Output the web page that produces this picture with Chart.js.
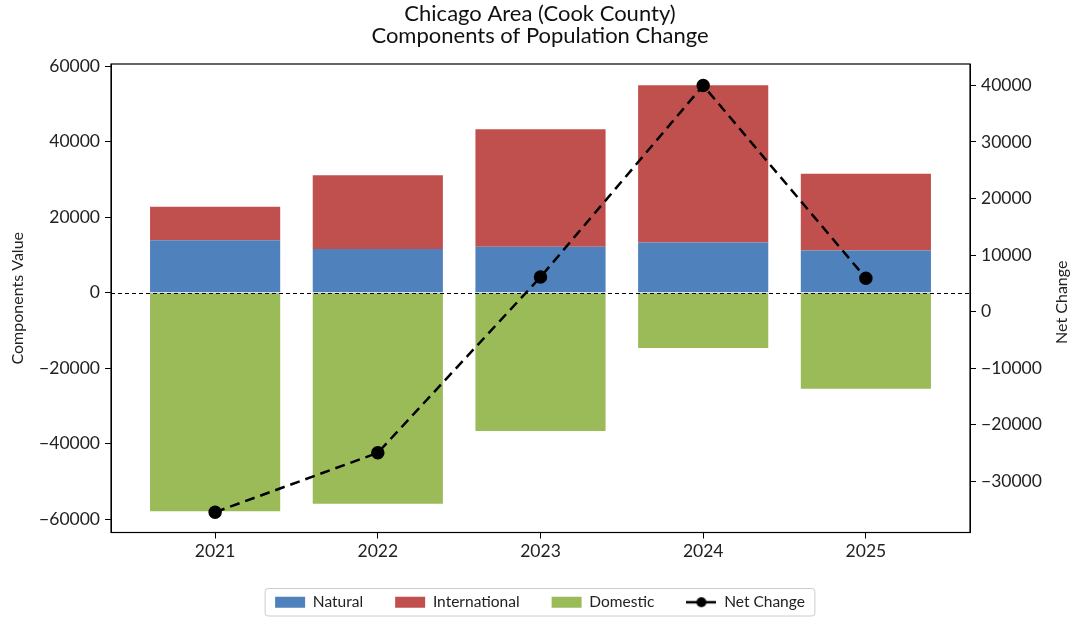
<!DOCTYPE html>
<html lang="en">
<head>
    <meta charset="UTF-8">
    <title>Chicago Area (Cook County) - Components of Population Change</title>
    <script src="https://cdn.jsdelivr.net/npm/chart.js"></script>
    <style>
        body, html {
            margin: 0;
            padding: 0;
            background: #ffffff;
        }
        #chartBox {
            width: 1080px;
            height: 624px;
        }
    </style>
</head>
<body>
    <div id="chartBox">
        <canvas id="popChart"></canvas>
    </div>

    <script>
        // Data
        const years = ['2021', '2022', '2023', '2024', '2025'];
        const natural = [13900, 11600, 12200, 13300, 11200];
        const international = [8900, 19500, 31100, 41700, 20300];
        const domestic = [-57900, -55900, -36600, -14600, -25400];
        const netChange = [-35500, -25000, 6100, 40000, 5900];
        const leftTicks = [-60000, -40000, -20000, 0, 20000, 40000, 60000];
        const rightTicks = [-30000, -20000, -10000, 0, 10000, 20000, 30000, 40000];

        const FONT = 'Lato, "DejaVu Sans", sans-serif';
        const TXT = '#222222';

        // bars sit on a linear x axis so the side margins match the original
        function points(values) {
            return values.map((v, i) => ({ x: i, y: v }));
        }

        function fmt(v) {
            return v < 0 ? '\u2212' + Math.abs(v) : String(v);
        }

        // little line + dot image for the "Net Change" legend entry
        const lineIcon = document.createElement('canvas');
        lineIcon.width = 30;
        lineIcon.height = 12;
        (function () {
            const c = lineIcon.getContext('2d');
            c.strokeStyle = '#000';
            c.lineWidth = 2.5;
            c.beginPath();
            c.moveTo(0, 6);
            c.lineTo(30, 6);
            c.stroke();
            c.fillStyle = '#000';
            c.beginPath();
            c.arc(15, 6, 5, 0, Math.PI * 2);
            c.fill();
        })();

        // frame around the plot, zero line, right axis title, legend border
        const extras = {
            id: 'extras',
            afterDatasetDraw(chart, args) {
                // zero line goes over the bars but under the net change line
                if (args.index !== 1) return;
                const ctx = chart.ctx;
                const y0 = Math.round(chart.scales.y.getPixelForValue(0)) + 0.5;
                const a = chart.chartArea;
                ctx.save();
                ctx.strokeStyle = '#000';
                ctx.lineWidth = 1;
                ctx.setLineDash([4, 3]);
                ctx.beginPath();
                ctx.moveTo(a.left, y0);
                ctx.lineTo(a.right, y0);
                ctx.stroke();
                ctx.restore();
            },
            afterDraw(chart) {
                const ctx = chart.ctx;
                const a = chart.chartArea;
                ctx.save();
                ctx.strokeStyle = '#000';
                ctx.lineWidth = 1.2;
                ctx.strokeRect(a.left, a.top, a.right - a.left, a.bottom - a.top);

                // matplotlib reads the right label bottom-to-top, like the left one
                ctx.translate(chart.scales.y2.right - 18, (a.top + a.bottom) / 2 + 4);
                ctx.rotate(-Math.PI / 2);
                ctx.fillStyle = TXT;
                ctx.font = '16px ' + FONT;
                ctx.textAlign = 'center';
                ctx.textBaseline = 'middle';
                ctx.fillText('Net Change', 0, 0);
                ctx.restore();

                ctx.save();
                const boxes = chart.legend.legendHitBoxes;
                if (boxes && boxes.length) {
                    const l = Math.min(...boxes.map(b => b.left)) - 10;
                    const r = Math.max(...boxes.map(b => b.left + b.width)) + 10;
                    const t = Math.min(...boxes.map(b => b.top)) - 6;
                    const bt = Math.max(...boxes.map(b => b.top + b.height)) + 6;
                    ctx.strokeStyle = '#cccccc';
                    ctx.lineWidth = 1;
                    ctx.beginPath();
                    ctx.roundRect(l, t, r - l, bt - t, 3);
                    ctx.stroke();
                }
                ctx.restore();
            }
        };

        new Chart(document.getElementById('popChart'), {
            type: 'bar',
            data: {
                datasets: [
                    {
                        type: 'line',
                        label: 'Net Change',
                        data: points(netChange),
                        yAxisID: 'y2',
                        borderColor: '#000000',
                        backgroundColor: '#000000',
                        borderWidth: 2.5,
                        borderDash: [10, 6],
                        pointRadius: 5.5,
                        pointHoverRadius: 5.5,
                        pointBackgroundColor: '#000000',
                        tension: 0,
                        order: 0
                    },
                    {
                        label: 'Natural',
                        data: points(natural),
                        backgroundColor: '#4F81BD',
                        yAxisID: 'y',
                        stack: 'pos',
                        order: 1
                    },
                    {
                        label: 'International',
                        data: points(international),
                        backgroundColor: '#C0504D',
                        yAxisID: 'y',
                        stack: 'pos',
                        order: 1
                    },
                    {
                        label: 'Domestic',
                        data: points(domestic),
                        backgroundColor: '#9BBB59',
                        yAxisID: 'y',
                        stack: 'pos',
                        order: 1
                    }
                ]
            },
            options: {
                responsive: true,
                maintainAspectRatio: false,
                animation: false,
                layout: { padding: { top: 0, bottom: 4, left: 0, right: 0 } },
                datasets: {
                    bar: { barPercentage: 0.8, categoryPercentage: 1.0 }
                },
                plugins: {
                    title: {
                        display: true,
                        text: ['Chicago Area (Cook County)', 'Components of Population Change'],
                        color: '#111',
                        font: { family: FONT, size: 22, weight: 'normal', lineHeight: 1.0 },
                        padding: { top: 3, bottom: 17 }
                    },
                    legend: {
                        position: 'bottom',
                        labels: {
                            color: TXT,
                            font: { family: FONT, size: 15.5 },
                            usePointStyle: true,
                            pointStyleWidth: 30,
                            boxHeight: 11,
                            padding: 32,
                            generateLabels(chart) {
                                const order = [1, 2, 3, 0];
                                return order.map(i => {
                                    const ds = chart.data.datasets[i];
                                    return {
                                        text: ds.label,
                                        fillStyle: ds.backgroundColor,
                                        strokeStyle: ds.backgroundColor,
                                        lineWidth: 0,
                                        pointStyle: i === 0 ? lineIcon : 'rect',
                                        fontColor: TXT,
                                        datasetIndex: i,
                                        hidden: false
                                    };
                                });
                            }
                        }
                    },
                    tooltip: { enabled: false }
                },
                scales: {
                    x: {
                        type: 'linear',
                        min: -0.64,
                        max: 4.64,
                        offset: false,
                        stacked: true,
                        afterBuildTicks(s) {
                            s.ticks = years.map((_, i) => ({ value: i }));
                        },
                        afterFit(s) { s.height = 30; },
                        ticks: {
                            color: TXT,
                            font: { family: FONT, size: 17.5 },
                            padding: 2,
                            callback: v => years[v]
                        },
                        grid: { offset: false, drawOnChartArea: false, color: '#000', tickLength: 6 },
                        border: { display: true, color: '#000' }
                    },
                    y: {
                        position: 'left',
                        stacked: true,
                        min: -63500,
                        max: 60600,
                        afterBuildTicks(s) {
                            s.ticks = leftTicks.map(v => ({ value: v }));
                        },
                        afterFit(s) { s.width = 111; },
                        title: {
                            display: true,
                            text: 'Components Value',
                            color: TXT,
                            font: { family: FONT, size: 16 },
                            padding: { top: 8, bottom: 0 }
                        },
                        ticks: {
                            color: TXT,
                            font: { family: FONT, size: 17.5 },
                            padding: 5,
                            callback: v => fmt(v)
                        },
                        grid: { drawOnChartArea: false, color: '#000', tickLength: 6 },
                        border: { display: true, color: '#000' }
                    },
                    y2: {
                        position: 'right',
                        min: -39100,
                        max: 43800,
                        afterBuildTicks(s) {
                            s.ticks = rightTicks.map(v => ({ value: v }));
                        },
                        afterFit(s) { s.width = 110; },
                        ticks: {
                            color: TXT,
                            font: { family: FONT, size: 17.5 },
                            padding: 5,
                            callback: v => fmt(v)
                        },
                        grid: { drawOnChartArea: false, color: '#000', tickLength: 6 },
                        border: { display: true, color: '#000' }
                    }
                }
            },
            plugins: [extras]
        });
    </script>
</body>
</html>
